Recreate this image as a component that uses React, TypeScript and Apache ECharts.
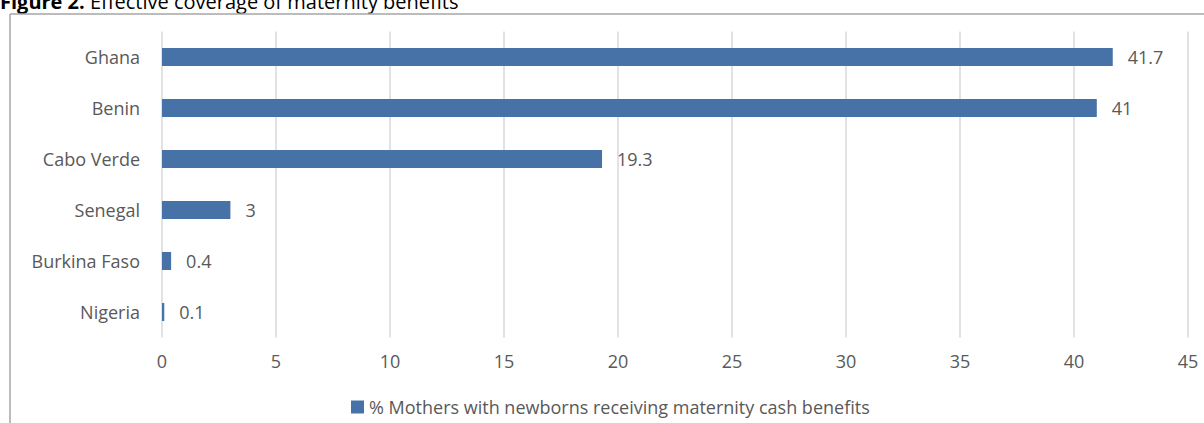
import React, { useEffect, useRef } from "react";
import * as echarts from "echarts";

const categories = ["Ghana", "Benin", "Cabo Verde", "Senegal", "Burkina Faso", "Nigeria"];
const values = [41.7, 41, 19.3, 3, 0.4, 0.1];
const seriesName = "% Mothers with newborns receiving maternity cash benefits";
const titleBold = "Figure 2.";
const titleRest = " Effective coverage of maternity benefits";

const FONT = "'Open Sans', 'Noto Sans', sans-serif";
const TEXT = "#595959";
const FS = 18;

export default function App() {
  const ref = useRef<HTMLDivElement>(null);
  useEffect(() => {
    if (!ref.current) return;
    const chart = echarts.init(ref.current, null, { renderer: "svg" });
    chart.setOption({
      animation: false,
      backgroundColor: "#ffffff",
      textStyle: { fontFamily: FONT },
      grid: { left: 162, right: 16, top: 31.5, bottom: 85.5, containLabel: false },
      xAxis: {
        type: "value",
        min: 0,
        max: 45,
        interval: 5,
        axisLine: { show: false },
        axisTick: { show: false },
        splitLine: { show: true, lineStyle: { color: "#d9d9d9", width: 1.5 } },
        axisLabel: { color: TEXT, fontSize: FS, margin: 14, fontFamily: FONT },
      },
      yAxis: {
        type: "category",
        data: categories,
        inverse: true,
        axisLine: { show: false },
        axisTick: { show: false },
        splitLine: { show: false },
        axisLabel: { color: TEXT, fontSize: FS, margin: 22, fontFamily: FONT },
      },
      legend: {
        left: 346,
        top: 393,
        itemWidth: 13,
        itemHeight: 13,
        itemGap: 10,
        icon: "rect",
        textStyle: { color: TEXT, fontSize: FS, fontFamily: FONT },
        data: [seriesName],
      },
      series: [
        {
          name: seriesName,
          type: "bar",
          data: values,
          barWidth: 18,
          itemStyle: { color: "#4672a8" },
          label: {
            show: true,
            position: "right",
            distance: 15,
            color: TEXT,
            fontSize: FS,
            fontFamily: FONT,
          },
        },
      ],
      graphic: [
        {
          type: "text",
          left: 0,
          top: -9,
          style: {
            text: "{b|" + titleBold + "}{n|" + titleRest + "}",
            rich: {
              b: { fontWeight: "bold", fontSize: 20, fill: "#000", fontFamily: FONT },
              n: { fontSize: 20, fill: "#000", fontFamily: FONT },
            },
          },
        },
        {
          type: "line",
          shape: { x1: 10, y1: 14, x2: 1204, y2: 14 },
          style: { stroke: "#a6a6a6", lineWidth: 1.5 },
        },
        {
          type: "line",
          shape: { x1: 10, y1: 14, x2: 10, y2: 423 },
          style: { stroke: "#a6a6a6", lineWidth: 1.5 },
        },
      ],
    });
    return () => chart.dispose();
  }, []);
  return (
    <div
      ref={ref}
      style={{ position: "fixed", left: 0, top: 0, width: 1204, height: 423 }}
    />
  );
}
